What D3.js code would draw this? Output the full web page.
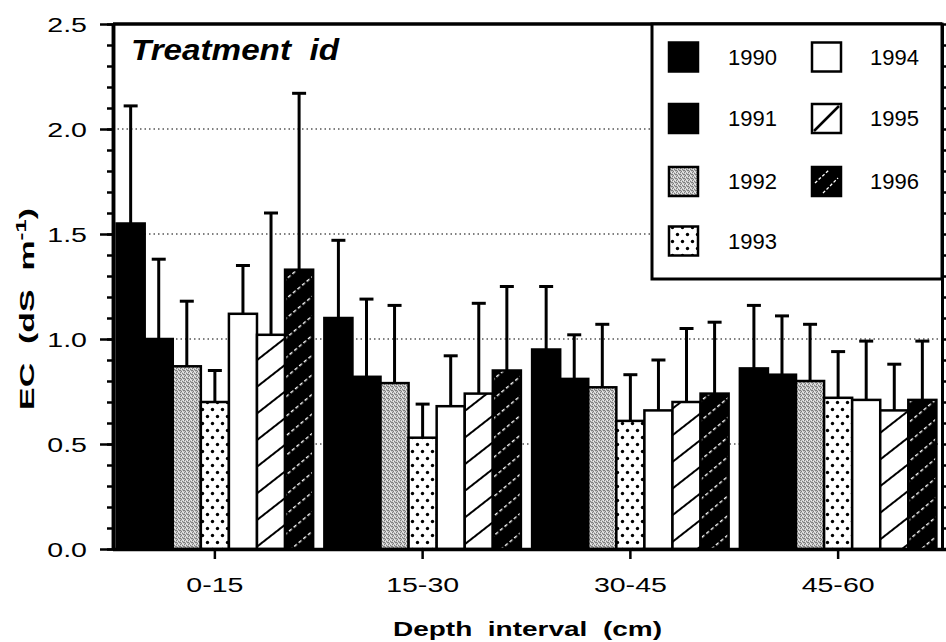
<!DOCTYPE html>
<html><head><meta charset="utf-8">
<script src="https://cdn.jsdelivr.net/npm/d3@7"></script>
<style>
body{margin:0;background:#fff}
svg{display:block}
text{font-family:"Liberation Sans",Arial,Helvetica,sans-serif;fill:#000;white-space:pre}
</style>
</head><body>
<svg id="chart" width="946" height="642"></svg>
<script>
// ---- data ----
const categories = ["0-15", "15-30", "30-45", "45-60"];
const years = ["1990", "1991", "1992", "1993", "1994", "1995", "1996"];
const ec1990 = [1.55, 1.10, 0.95, 0.86];
const ec1991 = [1.00, 0.82, 0.81, 0.83];
const ec1992 = [0.87, 0.79, 0.77, 0.80];
const ec1993 = [0.70, 0.53, 0.61, 0.72];
const ec1994 = [1.12, 0.68, 0.66, 0.71];
const ec1995 = [1.02, 0.74, 0.70, 0.66];
const ec1996 = [1.33, 0.85, 0.74, 0.71];
const sd1990 = [0.56, 0.37, 0.30, 0.30];
const sd1991 = [0.38, 0.37, 0.21, 0.28];
const sd1992 = [0.31, 0.37, 0.30, 0.27];
const sd1993 = [0.15, 0.16, 0.22, 0.22];
const sd1994 = [0.23, 0.24, 0.24, 0.28];
const sd1995 = [0.58, 0.43, 0.35, 0.22];
const sd1996 = [0.84, 0.40, 0.34, 0.28];
const yTicks = [0.0, 0.5, 1.0, 1.5, 2.0, 2.5];
const gridValues = [0.5, 1.0, 1.5, 2.0];
const titleText = "Treatment  id";
const xTitle = "Depth  interval  (cm)";

const ecAll = [ec1990, ec1991, ec1992, ec1993, ec1994, ec1995, ec1996];
const sdAll = [sd1990, sd1991, sd1992, sd1993, sd1994, sd1995, sd1996];
const rows = [];
years.forEach((yr, i) => categories.forEach((c, j) => rows.push({year: yr, cat: c, v: ecAll[i][j], sd: sdAll[i][j]})));

// ---- setup ----
const svg = d3.select("#chart");
const L = 113, R = 942, T = 24, B = 549;
const y = d3.scaleLinear().domain([0, 2.5]).range([B, T]);
const x0 = d3.scaleBand().domain(categories).range([111, R]).padding(0);
const x1 = d3.scaleBand().domain(years).range([0, x0.bandwidth()]).paddingInner(0).paddingOuter(0.2);

// ---- patterns ----
const defs = svg.append("defs");
// 1992 grey stipple
const p2 = defs.append("pattern").attr("id", "p1992").attr("patternUnits", "userSpaceOnUse").attr("width", 4).attr("height", 4);
p2.append("rect").attr("width", 4).attr("height", 4).attr("fill", "#c4c4c4");
[[0,0],[2,1],[1,3],[3,2],[0,2]].forEach(([a,b]) => p2.append("rect").attr("x", a).attr("y", b).attr("width", 1).attr("height", 1).attr("fill", "#7e7e7e"));
[[1,1],[3,0],[2,3]].forEach(([a,b]) => p2.append("rect").attr("x", a).attr("y", b).attr("width", 1).attr("height", 1).attr("fill", "#ececec"));
// 1993 dots
const p3 = defs.append("pattern").attr("id", "p1993").attr("patternUnits", "userSpaceOnUse").attr("width", 10).attr("height", 14);
p3.append("rect").attr("width", 10).attr("height", 14).attr("fill", "#fff");
p3.append("circle").attr("cx", 2.5).attr("cy", 3.5).attr("r", 1.7).attr("fill", "#000");
p3.append("circle").attr("cx", 7.5).attr("cy", 10.5).attr("r", 1.7).attr("fill", "#000");
// 1995 hatch
const p5 = defs.append("pattern").attr("id", "p1995").attr("patternUnits", "userSpaceOnUse").attr("width", 6).attr("height", 21).attr("patternTransform", "rotate(-38)");
p5.append("rect").attr("width", 6).attr("height", 21).attr("fill", "#fff");
p5.append("rect").attr("y", 0).attr("width", 6).attr("height", 2).attr("fill", "#000");
// 1996 black with white dashed hatch
const p6 = defs.append("pattern").attr("id", "p1996").attr("patternUnits", "userSpaceOnUse").attr("width", 6).attr("height", 15).attr("patternTransform", "rotate(-40)");
p6.append("rect").attr("width", 6).attr("height", 15).attr("fill", "#000");
p6.append("rect").attr("x", 0).attr("y", 7).attr("width", 3.5).attr("height", 1.4).attr("fill", "#fff");

const fills = {"1990": "#000", "1991": "#000", "1992": "url(#p1992)", "1993": "url(#p1993)", "1994": "#fff", "1995": "url(#p1995)", "1996": "url(#p1996)"};

// ---- gridlines ----
svg.append("g").selectAll("line").data(gridValues).join("line")
  .attr("x1", L).attr("x2", R).attr("y1", d => y(d)).attr("y2", d => y(d))
  .attr("stroke", "#000").attr("stroke-width", 1.2).attr("stroke-dasharray", "1.5,3");

// ---- bars ----
const bars = svg.append("g");
bars.selectAll("rect").data(rows).join("rect")
  .attr("x", d => x0(d.cat) + x1(d.year))
  .attr("y", d => y(d.v))
  .attr("width", x1.bandwidth())
  .attr("height", d => y(0) - y(d.v))
  .attr("fill", d => fills[d.year])
  .attr("stroke", "#000").attr("stroke-width", 2.5);

// ---- error bars ----
const eb = svg.append("g").attr("stroke", "#000").attr("stroke-width", 3);
eb.selectAll("line.v").data(rows).join("line").attr("class", "v")
  .attr("x1", d => x0(d.cat) + x1(d.year) + x1.bandwidth() / 2)
  .attr("x2", d => x0(d.cat) + x1(d.year) + x1.bandwidth() / 2)
  .attr("y1", d => y(d.v)).attr("y2", d => y(d.v + d.sd));
eb.selectAll("line.c").data(rows).join("line").attr("class", "c")
  .attr("x1", d => x0(d.cat) + x1(d.year) + x1.bandwidth() / 2 - 7)
  .attr("x2", d => x0(d.cat) + x1(d.year) + x1.bandwidth() / 2 + 7)
  .attr("y1", d => y(d.v + d.sd)).attr("y2", d => y(d.v + d.sd));

// ---- axes ----
const minor = d3.range(0, 26).map(i => i / 10);
function styleAxis(g, w) {
  g.selectAll("path.domain").attr("stroke", "#000").attr("stroke-width", w);
  g.selectAll(".tick line").attr("stroke", "#000").attr("stroke-width", 2.5);
}
const gLm = svg.append("g").attr("transform", `translate(${L},0)`)
  .call(d3.axisLeft(y).tickValues(minor).tickSize(6).tickSizeOuter(0).tickFormat(""));
styleAxis(gLm, 3.5);
const gL = svg.append("g").attr("transform", `translate(${L},0)`)
  .call(d3.axisLeft(y).tickValues(yTicks).tickSize(13).tickSizeOuter(0).tickPadding(13).tickFormat(d3.format(".1f")));
styleAxis(gL, 3.5);
gL.selectAll(".tick text").attr("font-size", 21).attr("x", null)
  .attr("text-anchor", "end").attr("dy", "0.35em")
  .attr("transform", "translate(-26,0) scale(1.36,1)")
  .style("font-family", "'Liberation Sans',Arial,sans-serif");

const gR = svg.append("g").attr("transform", `translate(${R},0)`)
  .call(d3.axisRight(y).tickValues(minor).tickSize(8).tickSizeOuter(0).tickFormat(""));
styleAxis(gR, 3);

const gB = svg.append("g").attr("transform", `translate(0,${B})`)
  .call(d3.axisBottom(x0).tickSize(10).tickSizeOuter(0).tickFormat(""));
styleAxis(gB, 3.5);
gB.select("path.domain").attr("d", `M${L},0.5H946`);

svg.append("line").attr("x1", L).attr("x2", R).attr("y1", T).attr("y2", T).attr("stroke", "#000").attr("stroke-width", 3.5);

// x tick labels
svg.append("g").selectAll("text").data(categories).join("text")
  .attr("transform", d => `translate(${x0(d) + x0.bandwidth() / 2},592) scale(1.36,1)`)
  .attr("text-anchor", "middle").attr("font-size", 21).text(d => d);

// x title
svg.append("text").attr("transform", `translate(${(L + R) / 2},636) scale(1.4,1)`)
  .attr("text-anchor", "middle").attr("font-size", 20).attr("font-weight", "bold").text(xTitle);

// y title
const yt = svg.append("text").attr("text-anchor", "middle").attr("font-size", 20).attr("font-weight", "bold");
yt.append("tspan").text("EC  (dS  m");
yt.append("tspan").attr("font-size", 14).attr("dy", -8).text("-1");
yt.append("tspan").attr("dy", 8).text(")");
const ylen = yt.node().getComputedTextLength();
yt.attr("transform", `translate(34,309) rotate(-90) scale(${202 / ylen},1)`);

// title
const tt = svg.append("text").attr("font-size", 30).attr("font-weight", "bold").attr("font-style", "italic").text(titleText);
const tlen = tt.node().getComputedTextLength();
tt.attr("transform", `translate(131,60) scale(${208 / tlen},1)`);

// ---- legend ----
const lg = svg.append("g");
lg.append("rect").attr("x", 652).attr("y", T).attr("width", R - 652).attr("height", 255)
  .attr("fill", "#fff").attr("stroke", "#000").attr("stroke-width", 3);
const colX = [669, 812], rowY = [57, 118.5, 181.5, 241];
const sw = 29;
years.forEach((yr, i) => {
  const c = i < 4 ? 0 : 1, r = i < 4 ? i : i - 4;
  const sx = colX[c], sy = rowY[r] - sw / 2;
  const g = lg.append("g");
  g.append("rect").attr("x", sx).attr("y", sy).attr("width", sw).attr("height", sw)
    .attr("fill", yr === "1995" ? "#fff" : yr === "1996" ? "#000" : fills[yr])
    .attr("stroke", "#000").attr("stroke-width", 2.5);
  if (yr === "1995") {
    g.append("line").attr("x1", sx + 2).attr("y1", sy + sw - 2).attr("x2", sx + sw - 2).attr("y2", sy + 2)
      .attr("stroke", "#000").attr("stroke-width", 2.5);
  }
  if (yr === "1996") {
    g.append("line").attr("x1", sx + 3).attr("y1", sy + 16).attr("x2", sx + 17).attr("y2", sy + 3)
      .attr("stroke", "#fff").attr("stroke-width", 1.3).attr("stroke-dasharray", "3,2");
    g.append("line").attr("x1", sx + 11).attr("y1", sy + 26).attr("x2", sx + 26).attr("y2", sy + 11)
      .attr("stroke", "#fff").attr("stroke-width", 1.3).attr("stroke-dasharray", "3,2");
  }
  g.append("text").attr("x", c === 0 ? 728 : 870).attr("y", rowY[r]).attr("dy", "0.36em")
    .attr("font-size", 22).text(yr);
});
</script>
</body></html>
